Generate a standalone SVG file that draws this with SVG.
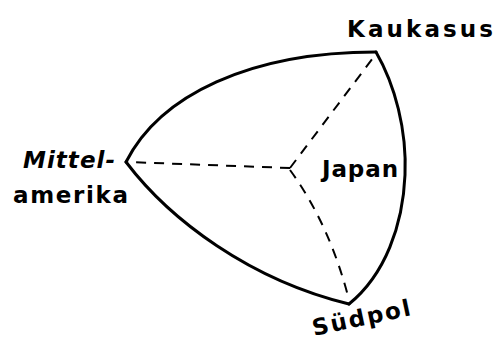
<svg xmlns="http://www.w3.org/2000/svg" width="501" height="340" viewBox="0 0 501 340">
<style>
.edge{fill:none;stroke:#000;stroke-width:3;stroke-linejoin:round;stroke-linecap:round}
.dash{fill:none;stroke:#000;stroke-width:2;stroke-dasharray:10 8}
.lbl{font-family:"DejaVu Sans",sans-serif;font-weight:bold;font-size:23px;fill:#000}
</style>
<rect width="501" height="340" fill="#fff"/>
<g id="connectors">
<path class="edge" d="M126,162 C160,95 250,52 376,52"/>
<path class="edge" d="M376,52 C395,85 407,130 405,175 C403,225 385,275 349,304"/>
<path class="edge" d="M126,162 C170,220 250,280 349,304"/>
<path class="dash" d="M290,168 L376,54"/>
<path class="dash" d="M290,168 L127,162"/>
<path class="dash" d="M290,170 Q330,225 349,300"/>
</g>
<g id="kaukasus"><text class="lbl" x="347" y="37" textLength="146" lengthAdjust="spacing">Kaukasus</text></g>
<g id="mittelamerika">
<text class="lbl" x="23" y="168" textLength="92" lengthAdjust="spacing" font-style="italic">Mittel-</text>
<text class="lbl" x="13" y="203" textLength="115" lengthAdjust="spacing">amerika</text>
</g>
<g id="japan"><text class="lbl" x="322" y="177" textLength="76" lengthAdjust="spacing">Japan</text></g>
<g id="suedpol"><text class="lbl" x="314" y="336" textLength="100" lengthAdjust="spacing" font-size="24" transform="rotate(-12 314 336)">Südpol</text></g>
</svg>
